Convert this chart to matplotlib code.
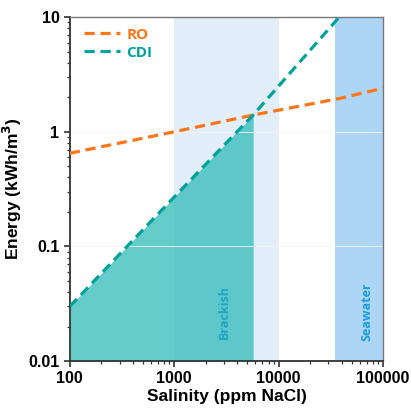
import numpy as np
import matplotlib.pyplot as plt
from matplotlib.ticker import LogLocator, NullFormatter

# salinity (ppm NaCl) and energy (kWh/m3)
salinity = [100, 1000, 5700, 38000, 100000]
ro_energy = [0.65, 1.0, 1.4, 1.95, 2.4]
cdi_energy = [0.03, 0.27, 1.4, 10.0]
cdi_salinity = [100, 1000, 5700, 38000]

brackish_range = [1000, 10000]
seawater_range = [35000, 100000]

plt.rcParams['font.family'] = ['Liberation Sans', 'DejaVu Sans']

fig = plt.figure(figsize=(4.11, 4.08), dpi=100)
ax = fig.add_axes([0.170, 0.115, 0.762, 0.843])
ax.set_xscale('log')
ax.set_yscale('log')
ax.set_xlim(100, 100000)
ax.set_ylim(0.01, 10)

ax.axvspan(*brackish_range, color='#e3eefb', zorder=0, lw=0)
ax.axvspan(*seawater_range, color='#acd5f6', zorder=0, lw=0)
ax.grid(axis='y', which='major', color='#f2f4f6', lw=0.6, zorder=0.5)

fill_x = cdi_salinity[:3]
fill_y = cdi_energy[:3]
ax.fill_between(fill_x, 0.01, fill_y, color='#24b7b4', alpha=0.7, lw=0, zorder=1)

ax.plot(salinity, ro_energy, '--', color='#ff7517', lw=2.3, dashes=(3.2, 1.8), label='RO', zorder=3)
ax.plot(cdi_salinity, cdi_energy, '--', color='#00a39b', lw=2.3, dashes=(3.2, 1.8), label='CDI', zorder=3)

ax.text(3000, 0.027, 'Brackish', rotation=90, ha='center', va='center',
        color='#1ea5c8', fontsize=9, fontweight='bold', family=['Open Sans', 'DejaVu Sans'])
ax.text(70000, 0.027, 'Seawater', rotation=90, ha='center', va='center',
        color='#1a9ce6', fontsize=9, fontweight='bold', family=['Open Sans', 'DejaVu Sans'])

leg = ax.legend(loc='upper left', frameon=False, handlelength=2.4,
                bbox_to_anchor=(0.01, 1.0), borderaxespad=0.3, handletextpad=0.4,
                labelspacing=0.25, prop={'weight': 'bold', 'family': ['Open Sans', 'DejaVu Sans'], 'size': 11})
for t, c in zip(leg.get_texts(), ['#ff7517', '#00a39b']):
    t.set_color(c)

ax.set_xticks([100, 1000, 10000, 100000])
ax.set_xticklabels(['100', '1000', '10000', '100000'])
ax.set_yticks([0.01, 0.1, 1, 10])
ax.set_yticklabels(['0.01', '0.1', '1', '10'])
ax.xaxis.set_minor_locator(LogLocator(base=10, subs=np.arange(2, 10)))
ax.yaxis.set_minor_locator(LogLocator(base=10, subs=np.arange(2, 10)))
ax.xaxis.set_minor_formatter(NullFormatter())
ax.yaxis.set_minor_formatter(NullFormatter())
ax.tick_params(which='major', direction='out', length=4, width=1.2, color='#333333', labelsize=11.5)
ax.tick_params(which='minor', direction='out', length=2.5, width=0.9, color='#333333')
for lab in ax.get_xticklabels() + ax.get_yticklabels():
    lab.set_fontweight('bold')

for s in ['left', 'bottom']:
    ax.spines[s].set_color('#333333')
    ax.spines[s].set_linewidth(1.3)
for s in ['top', 'right']:
    ax.spines[s].set_color('#777777')
    ax.spines[s].set_linewidth(1.0)

ax.set_xlabel('Salinity (ppm NaCl)', fontsize=12.5, fontweight='bold', labelpad=2)
ax.set_ylabel('Energy (kWh/m$^\\mathbf{3}$)', fontsize=12.5, fontweight='bold', labelpad=3)

fig.savefig('out.png', dpi=100)
